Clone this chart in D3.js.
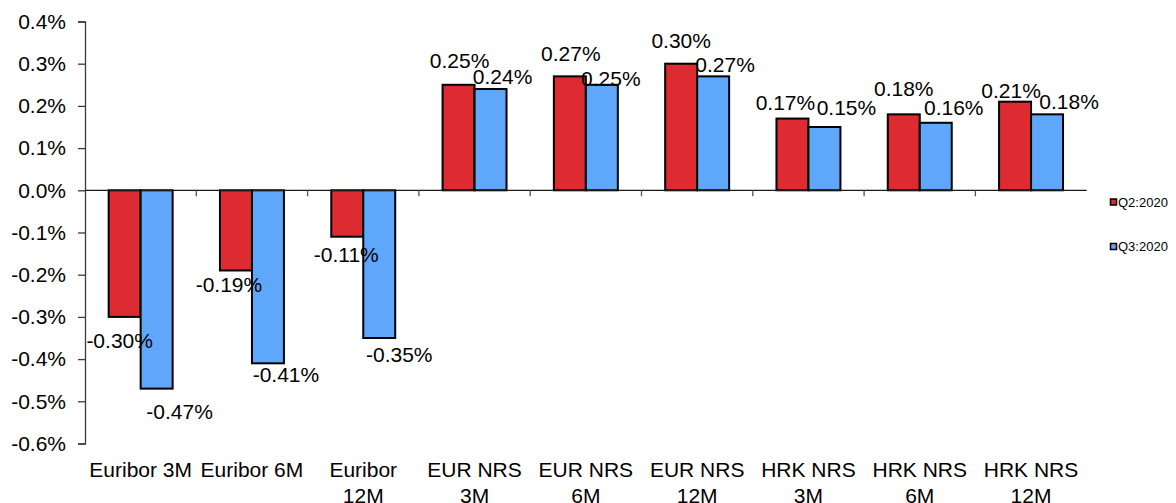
<!DOCTYPE html>
<html>
<head>
<meta charset="utf-8">
<script src="https://cdn.jsdelivr.net/npm/d3@7"></script>
<style>
    body { margin: 0; background: #fff; }
    svg { display: block; font-family: "Liberation Sans", Arial, sans-serif; }
    .lbl { font-size: 21px; fill: #000; }
</style>
</head>
<body>
<svg></svg>
<script>
var width = 1176;
var height = 503;

var categories = ["Euribor 3M", "Euribor 6M", "Euribor 12M", "EUR NRS 3M", "EUR NRS 6M",
    "EUR NRS 12M", "HRK NRS 3M", "HRK NRS 6M", "HRK NRS 12M"];
var seriesNames = ["Q2:2020", "Q3:2020"];
var q2 = [-0.30, -0.19, -0.11, 0.25, 0.27, 0.30, 0.17, 0.18, 0.21];
var q3 = [-0.47, -0.41, -0.35, 0.24, 0.25, 0.27, 0.15, 0.16, 0.18];
var yTicks = [0.4, 0.3, 0.2, 0.1, 0.0, -0.1, -0.2, -0.3, -0.4, -0.5, -0.6];

// label nudges (px) relative to bar centre / bar end, as placed in the original
var q2LabelDx = [-5, -7, -1, 1, 1, 0, -7, 0, -4];
var q2LabelDy = [31, 22, 25, -17, -15, -16, -9, -18, -4];
var q3LabelDx = [23, 18, 20, 12, 9, 12, 22, 18, 22];
var q3LabelDy = [30, 19, 24, -5, 1, -4, -12, -8, -5];

var colors = ["#DE2A31", "#5FA7FB"];

var svg = d3.select("svg")
    .attr("width", width)
    .attr("height", height);

var x_scale = d3.scaleBand()
    .domain(categories)
    .range([85, 1086.7])
    .padding(0);

var x_inner = d3.scaleBand()
    .domain(seriesNames)
    .range([0, x_scale.bandwidth()])
    .paddingInner(0)
    .paddingOuter(0.74);

var y_scale = d3.scaleLinear()
    .domain([-0.6, 0.4])
    .range([443.5, 21.5]);

var fmt = function(v) { return v.toFixed(2) + "%"; };

// y axis
var y_axis = d3.axisLeft(y_scale)
    .tickValues(yTicks)
    .tickSize(7)
    .tickPadding(12)
    .tickFormat(function(d) { return d.toFixed(1) + "%"; });

var gy = svg.append("g")
    .attr("transform", "translate(85,0)")
    .call(y_axis);
gy.select(".domain").attr("stroke", "#3a3a3a").attr("stroke-width", 1.3);
gy.selectAll(".tick line").attr("stroke", "#3a3a3a").attr("stroke-width", 1.3);
gy.selectAll(".tick text")
    .attr("font-size", 21)
    .attr("font-family", "Liberation Sans, Arial, sans-serif")
    .attr("fill", "#000");

// bars
var series = [q2, q3];
series.forEach(function(vals, s) {
    svg.append("g")
        .selectAll("rect")
        .data(vals)
        .enter().append("rect")
        .attr("x", function(d, i) { return x_scale(categories[i]) + x_inner(seriesNames[s]); })
        .attr("width", x_inner.bandwidth())
        .attr("y", function(d) { return y_scale(Math.max(0, d)); })
        .attr("height", function(d) { return Math.abs(y_scale(d) - y_scale(0)); })
        .attr("fill", colors[s])
        .attr("stroke", "#000")
        .attr("stroke-width", 2);
});

// zero line with category ticks
svg.append("line")
    .attr("x1", 85).attr("x2", x_scale.range()[1])
    .attr("y1", y_scale(0)).attr("y2", y_scale(0))
    .attr("stroke", "#1a1a1a").attr("stroke-width", 1.3);

svg.append("g")
    .selectAll("line")
    .data(categories.slice(1))
    .enter().append("line")
    .attr("x1", function(d) { return x_scale(d); })
    .attr("x2", function(d) { return x_scale(d); })
    .attr("y1", y_scale(0))
    .attr("y2", y_scale(0) + 6)
    .attr("stroke", "#555").attr("stroke-width", 1.3);

// data labels
var dxs = [q2LabelDx, q3LabelDx];
var dys = [q2LabelDy, q3LabelDy];
series.forEach(function(vals, s) {
    svg.append("g")
        .selectAll("text")
        .data(vals)
        .enter().append("text")
        .attr("class", "lbl")
        .attr("text-anchor", "middle")
        .attr("x", function(d, i) {
            return x_scale(categories[i]) + x_inner(seriesNames[s]) + x_inner.bandwidth() / 2 + dxs[s][i];
        })
        .attr("y", function(d, i) { return y_scale(d) + dys[s][i]; })
        .text(fmt);
});

// category labels (wrapped to band width)
var catG = svg.append("g");
categories.forEach(function(c) {
    var t = catG.append("text")
        .attr("class", "lbl")
        .attr("text-anchor", "middle")
        .attr("x", x_scale(c) + x_scale.bandwidth() / 2)
        .attr("y", 476.5);
    var words = c.split(" ");
    var line = [];
    var tspan = t.append("tspan").attr("x", x_scale(c) + x_scale.bandwidth() / 2);
    var lineNo = 0;
    words.forEach(function(w) {
        line.push(w);
        tspan.text(line.join(" "));
        if (tspan.node().getComputedTextLength() > x_scale.bandwidth() - 4 && line.length > 1) {
            line.pop();
            tspan.text(line.join(" "));
            line = [w];
            lineNo++;
            tspan = t.append("tspan")
                .attr("x", x_scale(c) + x_scale.bandwidth() / 2)
                .attr("dy", 26)
                .text(w);
        }
    });
});

// legend
var legend = svg.append("g")
    .selectAll("g")
    .data(seriesNames)
    .enter().append("g")
    .attr("transform", function(d, i) { return "translate(1110," + (202 + i * 44.5) + ")"; });

legend.append("rect")
    .attr("x", 0.5).attr("y", -3)
    .attr("width", 6).attr("height", 6)
    .attr("fill", function(d, i) { return colors[i]; })
    .attr("stroke", "#000")
    .attr("stroke-width", 1.5);

legend.append("text")
    .attr("x", 8)
    .attr("y", 4.6)
    .attr("font-size", 13)
    .attr("fill", "#000")
    .text(function(d) { return d; });
</script>
</body>
</html>
